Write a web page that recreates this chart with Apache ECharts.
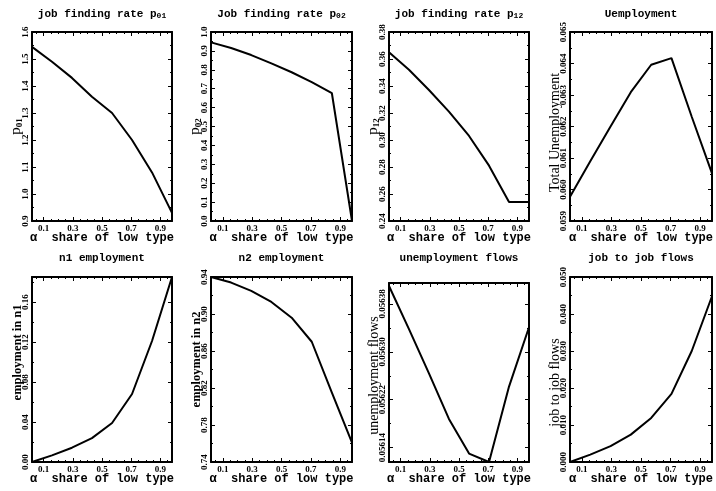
<!DOCTYPE html>
<html><head><meta charset="utf-8">
<script src="https://cdn.jsdelivr.net/npm/echarts@6/dist/echarts.min.js"></script>
<style>html,body{margin:0;padding:0;background:#fff}#c{width:716px;height:491px}</style>
</head><body><div id="c"></div>
<script>
// ---- data ----
const alpha = [0.02, 0.157, 0.294, 0.431, 0.569, 0.706, 0.843, 0.98];
const p01   = [1.545, 1.49, 1.43, 1.36, 1.30, 1.20, 1.08, 0.93];
const p02   = [0.945, 0.915, 0.878, 0.834, 0.787, 0.735, 0.676, 0.0];
const p12   = [0.365, 0.352, 0.337, 0.321, 0.303, 0.281, 0.254, 0.254];
const unemp = [0.05977, 0.0609, 0.0620, 0.06309, 0.06396, 0.06417, 0.06231, 0.06051];
const n1emp = [0.0, 0.0066, 0.0143, 0.0239, 0.039, 0.068, 0.121, 0.185];
const n2emp = [0.94, 0.934, 0.925, 0.913, 0.896, 0.870, 0.815, 0.761];
const uflow = [0.056410, 0.056338, 0.056264, 0.056188, 0.056130, 0.056116, 0.056242, 0.056341];
const j2j   = [0.0, 0.002, 0.0043, 0.0074, 0.0119, 0.0184, 0.030, 0.0448];

// ---- tick labels ----
const xTicks = [0.1, 0.3, 0.5, 0.7, 0.9];
const yTicks1 = [0.9, 1.0, 1.1, 1.2, 1.3, 1.4, 1.5, 1.6];
const yTicks2 = [0.0, 0.1, 0.2, 0.3, 0.4, 0.5, 0.6, 0.7, 0.8, 0.9, 1.0];
const yTicks3 = [0.24, 0.26, 0.28, 0.30, 0.32, 0.34, 0.36, 0.38];
const yTicks4 = [0.059, 0.060, 0.061, 0.062, 0.063, 0.064, 0.065];
const yTicks5 = [0.00, 0.04, 0.08, 0.12, 0.16];
const yTicks6 = [0.74, 0.78, 0.82, 0.86, 0.90, 0.94];
const yTicks7 = [0.05614, 0.05622, 0.05630, 0.05638];
const yTicks8 = [0.000, 0.010, 0.020, 0.030, 0.040, 0.050];

const panels = [
  {title:'job finding rate p{s|01}', yname:'{p|p}{s|01}', data:p01, ymin:0.9, ymax:1.6, ticks:yTicks1, dec:1},
  {title:'Job finding rate p{s|02}', yname:'{p|p}{s|02}', data:p02, ymin:0.0, ymax:1.0, ticks:yTicks2, dec:1},
  {title:'job finding rate p{s|12}', yname:'{p|p}{s|12}', data:p12, ymin:0.24, ymax:0.38, ticks:yTicks3, dec:2},
  {title:'Uemployment', yname:'Total Unemployment', data:unemp, ymin:0.059, ymax:0.065, ticks:yTicks4, dec:3},
  {title:'n1 employment', yname:'employment in n1', data:n1emp, ymin:0.0, ymax:0.185, ticks:yTicks5, dec:2, bold:true},
  {title:'n2 employment', yname:'employment in n2', data:n2emp, ymin:0.74, ymax:0.94, ticks:yTicks6, dec:2, bold:true},
  {title:'unemployment flows', yname:'unemployment flows', data:uflow, ymin:0.056116, ymax:0.056415, ticks:yTicks7, dec:5},
  {title:'job to job flows', yname:'job to job flows', data:j2j, ymin:0.0, ymax:0.050, ticks:yTicks8, dec:3}
];

// ---- layout ----
const colLeft = [32, 211, 389, 570];
const colWidth = [140, 141, 140, 142];
const rowTop = [32, 277];
const rowH = [189, 185];
const titleY = [14, 258];
const nameShift = [0, 0, 0, 6, -17, -10, 3, 13]; // +down / -up, px

function halfSteps(t){ const r=[]; for(let i=0;i<t.length-1;i++) r.push((t[i]+t[i+1])/2); return r; }
function xMinor(){ const r=[]; for(let k=1;k<20;k++){ const v=k*0.05; if(!xTicks.some(t=>Math.abs(t-v)<1e-9)) r.push(+v.toFixed(2)); } return r; }

const MONO = '"Liberation Mono", "DejaVu Sans Mono", monospace';
const SERIF = '"Liberation Serif", "DejaVu Serif", serif';
const lineBlack = {color:'#000', width:2};

const grids=[], xAxes=[], yAxes=[], series=[], graphics=[];
panels.forEach((p,i)=>{
  const col=i%4, row=Math.floor(i/4);
  let top=rowTop[row], h=rowH[row];
  if(i===6){ top=283; h=179; }
  grids.push({left:colLeft[col], top:top, width:colWidth[col], height:h, containLabel:false});
  const xmin=alpha[0], xmax=alpha[alpha.length-1];
  const xmn = xMinor().filter(v=>v>xmin && v<xmax);
  const step = p.ticks[1]-p.ticks[0];
  const ymn = halfSteps(p.ticks).concat(p.ymax>p.ticks[p.ticks.length-1]+step/2 ? [p.ticks[p.ticks.length-1]+step/2] : []);
  const xbase = {gridIndex:i, type:'value', min:xmin, max:xmax, splitLine:{show:false}};
  xAxes.push(Object.assign({}, xbase, {position:'bottom',
    axisLine:{show:true, onZero:false, lineStyle:lineBlack},
    axisTick:{show:true, inside:true, length:4, customValues:xTicks, lineStyle:{color:'#000',width:1}},
    axisLabel:{show:true, customValues:xTicks, margin:3, fontSize:9, fontWeight:'bold', fontFamily:SERIF, color:'#000', formatter:v=>v.toFixed(1)},
    name:'α  share of low type', nameLocation:'middle', nameGap:11, nameMoveOverlap:false,
    nameTextStyle:{fontFamily:MONO, fontWeight:'bold', fontSize:12, color:'#000', verticalAlign:'top'}}));
  xAxes.push(Object.assign({}, xbase, {position:'bottom', axisLine:{show:false, onZero:false},
    axisTick:{show:true, inside:true, length:2, customValues:xmn, lineStyle:{color:'#000',width:1}}, axisLabel:{show:false}}));
  xAxes.push(Object.assign({}, xbase, {position:'top',
    axisLine:{show:true, onZero:false, lineStyle:lineBlack},
    axisTick:{show:true, inside:true, length:4, customValues:xTicks, lineStyle:{color:'#000',width:1}}, axisLabel:{show:false}}));
  xAxes.push(Object.assign({}, xbase, {position:'top', axisLine:{show:false, onZero:false},
    axisTick:{show:true, inside:true, length:2, customValues:xmn, lineStyle:{color:'#000',width:1}}, axisLabel:{show:false}}));

  const sh = nameShift[i];
  const pad = sh < 0 ? [0,0,0,-2*sh] : [0,2*sh,0,0];
  const ybase = {gridIndex:i, type:'value', min:p.ymin, max:p.ymax, splitLine:{show:false}, scale:true};
  yAxes.push(Object.assign({}, ybase, {position:'left',
    axisLine:{show:true, onZero:false, lineStyle:lineBlack},
    axisTick:{show:true, inside:true, length:4, customValues:p.ticks, lineStyle:{color:'#000',width:1}},
    axisLabel:{show:true, customValues:p.ticks, rotate:90, margin:2, fontSize:9, fontWeight:'bold', fontFamily:SERIF, color:'#000', formatter:v=>v.toFixed(p.dec)},
    name:p.yname, nameLocation:'middle', nameGap:8, nameMoveOverlap:false,
    nameTextStyle:{fontFamily:SERIF, fontSize:p.bold?12.5:14, fontWeight:p.bold?'bold':'normal', color:'#000', padding:pad,
      rich:{p:{fontFamily:SERIF, fontSize:15, color:'#000'}, s:{fontFamily:SERIF, fontSize:9, fontWeight:'bold', color:'#000', verticalAlign:'bottom'}}}}));
  yAxes.push(Object.assign({}, ybase, {position:'left', axisLine:{show:false, onZero:false},
    axisTick:{show:true, inside:true, length:2, customValues:ymn, lineStyle:{color:'#000',width:1}}, axisLabel:{show:false}}));
  yAxes.push(Object.assign({}, ybase, {position:'right',
    axisLine:{show:true, onZero:false, lineStyle:lineBlack},
    axisTick:{show:true, inside:true, length:4, customValues:p.ticks, lineStyle:{color:'#000',width:1}}, axisLabel:{show:false}}));
  yAxes.push(Object.assign({}, ybase, {position:'right', axisLine:{show:false, onZero:false},
    axisTick:{show:true, inside:true, length:2, customValues:ymn, lineStyle:{color:'#000',width:1}}, axisLabel:{show:false}}));

  series.push({type:'line', xAxisIndex:i*4, yAxisIndex:i*4, data:alpha.map((a,k)=>[a,p.data[k]]),
    symbol:'none', clip:true, lineStyle:{color:'#000', width:2}, animation:false});

  graphics.push({type:'text', x:colLeft[col]+colWidth[col]/2, y:titleY[row],
    style:{text:p.title, align:'center', verticalAlign:'middle', fontFamily:MONO, fontWeight:'bold', fontSize:11, fill:'#000',
      rich:{s:{fontFamily:MONO, fontWeight:'bold', fontSize:8, fill:'#000', verticalAlign:'bottom'}}}});
});

const chart = echarts.init(document.getElementById('c'), null, {renderer:'canvas'});
chart.setOption({animation:false, backgroundColor:'#fff', grid:grids, xAxis:xAxes, yAxis:yAxes, series:series, graphic:graphics});
</script></body></html>
